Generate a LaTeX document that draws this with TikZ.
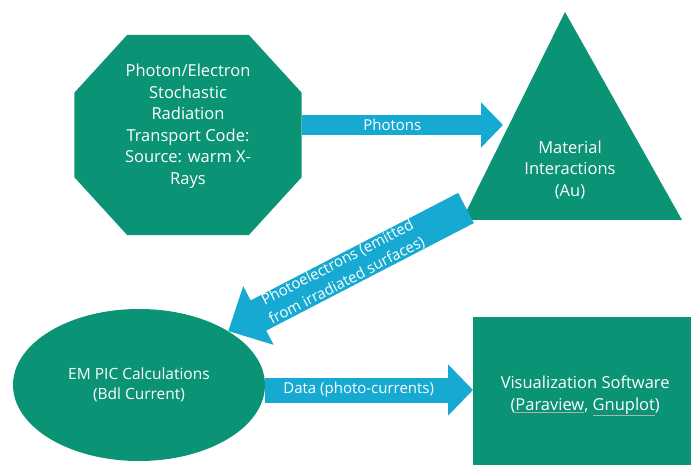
\documentclass[tikz,border=0pt]{standalone}
\usepackage{fontspec}
\setmainfont{Open Sans}
\usetikzlibrary{shapes.geometric,arrows.meta}
\definecolor{boxgreen}{RGB}{10,147,116}
\definecolor{flowblue}{RGB}{22,170,210}
\newcommand{\linkword}[1]{{\color{gray!60}\underline{\color{white}#1}}}
\tikzset{
  shapefill/.style={fill=boxgreen, draw=none, inner sep=0pt},
  txt/.style={text=white, align=center, inner sep=1pt, font=\fontsize{16.5}{21.5}\selectfont},
  flowtxt/.style={txt, font=\fontsize{15}{20}\selectfont},
  flow/.style={draw=flowblue, line width=#1},
}
\begin{document}
\begin{tikzpicture}[x=1pt,y=-1pt]
\useasboundingbox (0,0) rectangle (691,465);
\clip (0,0) rectangle (691,465);

% boxes
\node[minimum width=227pt, minimum height=200pt, inner sep=0pt] (src) at (188,135) {};
\fill[boxgreen] ([xshift=53pt]src.north west) -- ([xshift=-53pt]src.north east)
  -- ([yshift=-58pt]src.north east) -- ([yshift=58pt]src.south east)
  -- ([xshift=-53pt]src.south east) -- ([xshift=53pt]src.south west)
  -- ([yshift=58pt]src.south west) -- ([yshift=-58pt]src.north west) -- cycle;
\node[txt] (srctxt) at ([yshift=9pt]src.center) {Photon/Electron\\Stochastic\\Radiation\\Transport Code:\\Source: warm X-\\Rays};

\coordinate (apex) at (565,12);
\coordinate (baseL) at (462,220);
\coordinate (baseR) at (682,220);
\fill[boxgreen] (apex) -- (baseL) -- (baseR) -- cycle;
\node[txt] (mat) at (570,170) {Material\\Interactions\\(Au)};

\node[shapefill, ellipse, minimum width=252pt, minimum height=152pt] (pic) at (139,385) {};
\node[txt, font=\fontsize{15.5}{20.5}\selectfont] (pictxt) at (pic.center) {EM PIC Calculations\\(Bdl Current)};

\node[shapefill, txt, anchor=north west, minimum width=224pt, minimum height=158pt] (vis) at (473,317)
  {Visualization Software\\(\linkword{Paraview}, \linkword{Gnuplot})};

% flows
\coordinate (hit) at (503,125);
\coordinate (emit) at (466,208);
\draw[flow=20pt, -{Triangle[length=22pt,width=44pt,color=flowblue]}] ([yshift=10pt]src.east) -- (hit)
  node[flowtxt, pos=0.45] {Photons};
\draw[flow=34pt, -{Triangle[length=34pt,width=64pt,color=flowblue]}] (emit) -- (pic.north east)
  node[flowtxt, sloped, pos=0.52] {Photoelectrons (emitted\\from irradiated surfaces)};
\draw[flow=25pt, -{Triangle[length=25pt,width=50pt,color=flowblue]}] ([yshift=-5pt]pic.east) -- ([yshift=-5pt]pic.east -| vis.west)
  node[flowtxt, pos=0.45] {Data (photo-currents)};
\end{tikzpicture}
\end{document}
